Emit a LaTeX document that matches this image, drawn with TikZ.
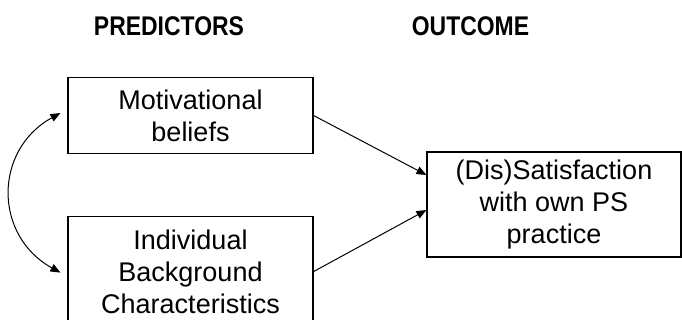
\documentclass[tikz,border=0pt]{standalone}
\usepackage{fontspec}
\setmainfont{Liberation Sans}
\newfontfamily\headfont[FakeStretch=0.85]{Liberation Sans}
\usetikzlibrary{
    arrows.meta,
    positioning
}

\begin{document}
\begin{tikzpicture}[
    x=1pt, y=1pt,
    varbox/.style = {rectangle, draw=black, line width=1.1pt,
                     minimum width=245pt, inner sep=0pt,
                     align=center,
                     font=\fontsize{27}{32}\selectfont},
    headlabel/.style = {font=\headfont\bfseries\fontsize{27}{30}\selectfont,
                        anchor=base},
    predarrow/.style = {line width=1pt, -{Triangle[length=10pt,width=8pt]}},
    corrarrow/.style = {line width=1pt,
                        {Triangle[length=10pt,width=8pt]}-{Triangle[length=10pt,width=8pt]}}
]
    \useasboundingbox (0,0) rectangle (682,320);

    \node[headlabel] (predhead) at (169,284) {PREDICTORS};
    \node[headlabel] (outhead) at (470.5,284) {OUTCOME};

    \node[varbox, minimum height=76pt] (mot) at (190.5,204.5) {Motivational\\beliefs};
    \node[varbox, minimum height=110pt] (ibc) [below=62pt of mot] {Individual\\Background\\Characteristics};
    \node[varbox, minimum width=254pt, minimum height=105pt] (sat) at (554,115.5) {(Dis)Satisfaction\\with own PS\\practice};

    \draw[predarrow] (mot.east) -- ([yshift=29.5pt]sat.west);
    \draw[predarrow] (ibc.east) -- ([yshift=-5.5pt]sat.west);
    % correlation between the two predictors
    \draw[corrarrow] ([xshift=-7pt,yshift=2.5pt]mot.west)
        .. controls +(-67,-37) and +(-67,37) .. ([xshift=-7pt,yshift=-1pt]ibc.west);

\end{tikzpicture}
\end{document}
